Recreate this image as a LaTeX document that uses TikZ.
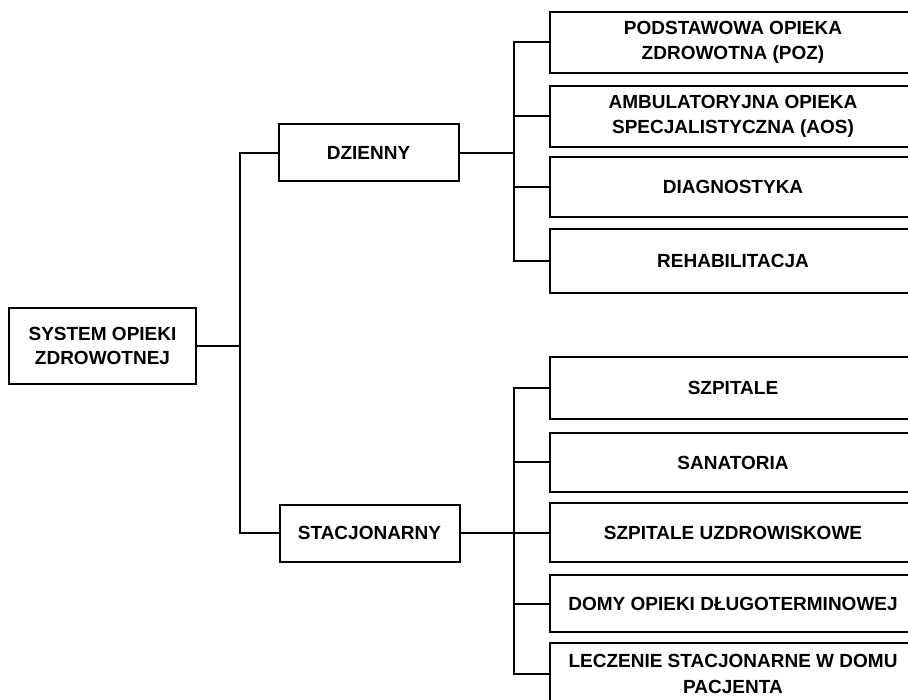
\documentclass[tikz,border=0pt]{standalone}
\usepackage{fontspec}
\setmainfont{Liberation Sans}
\usetikzlibrary{positioning}
\tikzset{
  rootbox/.style = {draw, line width=2pt, minimum width=187pt, minimum height=76pt,
                    align=center, inner sep=0pt, font=\fontsize{19}{23.5}\selectfont\bfseries},
  catbox/.style  = {draw, line width=2pt, minimum width=180pt, minimum height=57pt,
                    align=center, inner sep=0pt, font=\fontsize{19}{23.5}\selectfont\bfseries},
  leafbox/.style = {draw, line width=2pt, minimum width=366pt, minimum height=60pt,
                    align=center, inner sep=0pt, font=\fontsize{19}{25.5}\selectfont\bfseries},
  conn/.style    = {line width=2pt},
}
\begin{document}
\begin{tikzpicture}[x=1pt,y=-1pt]
  \useasboundingbox (0,0) rectangle (908,700);
  \clip (0,0) rectangle (908,700);
  \node[rootbox] (root) at (102.5,346) {SYSTEM OPIEKI\\ZDROWOTNEJ};
  \node[catbox] (dz) at (368.5,153) {DZIENNY};
  \node[catbox] (st) at (369.5,533) {STACJONARNY};
  % dzienny
  \node[leafbox, minimum height=61pt] (d1) at (733,42.5) {PODSTAWOWA OPIEKA\\ZDROWOTNA (POZ)};
  \node[leafbox, minimum height=61pt] (d2) at (733,116.5) {AMBULATORYJNA OPIEKA\\SPECJALISTYCZNA (AOS)};
  \node[leafbox] (d3) at (733,187) {DIAGNOSTYKA};
  \node[leafbox, minimum height=64pt] (d4) at (733,261) {REHABILITACJA};
  % stacjonarny
  \node[leafbox, minimum height=62pt] (s1) at (733,388) {SZPITALE};
  \node[leafbox, minimum height=59pt] (s2) at (733,462.5) {SANATORIA};
  \node[leafbox, minimum height=59pt] (s3) at (733,532.5) {SZPITALE UZDROWISKOWE};
  \node[leafbox, minimum height=57pt] (s4) at (733,603.5) {DOMY OPIEKI DŁUGOTERMINOWEJ};
  \node[leafbox, minimum height=62pt] (s5) at (733,674) {LECZENIE STACJONARNE W DOMU\\PACJENTA};
  \coordinate (ltrunk) at (240,0);
  \coordinate (rtrunk) at (514,0);
  \draw[conn] (root.east) -- (root.east -| ltrunk);
  \draw[conn] (dz.west) -| (ltrunk |- st.west) -- (st.west);
  \draw[conn] (dz.east) -- (dz.east -| rtrunk);
  \draw[conn] (st.east) -- (st.east -| rtrunk);
  \draw[conn] (d1.west) -| (rtrunk |- d4.west) -- (d4.west);
  \draw[conn] (s1.west) -| (rtrunk |- s5.west) -- (s5.west);
  \foreach \i in {2,3} \draw[conn] (d\i.west) -- (d\i.west -| rtrunk);
  \foreach \i in {2,3,4} \draw[conn] (s\i.west) -- (s\i.west -| rtrunk);
\end{tikzpicture}
\end{document}
